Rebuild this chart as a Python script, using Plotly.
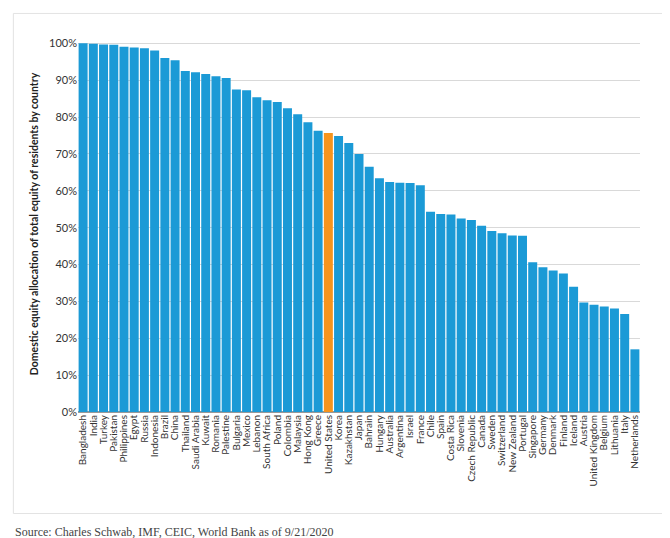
import plotly.graph_objects as go

countries = ["Bangladesh", "India", "Turkey", "Pakistan", "Philippines", "Egypt", "Russia", "Indonesia",
             "Brazil", "China", "Thailand", "Saudi Arabia", "Kuwait", "Romania", "Palestine", "Bulgaria",
             "Mexico", "Lebanon", "South Africa", "Poland", "Colombia", "Malaysia", "Hong Kong", "Greece",
             "United States", "Korea", "Kazakhstan", "Japan", "Bahrain", "Hungary", "Australia", "Argentina",
             "Israel", "France", "Chile", "Spain", "Costa Rica", "Slovenia", "Czech Republic", "Canada",
             "Sweden", "Switzerland", "New Zealand", "Portugal", "Singapore", "Germany", "Denmark", "Finland",
             "Iceland", "Austria", "United Kingdom", "Belgium", "Lithuania", "Italy", "Netherlands"]
shares = [100, 99.9, 99.7, 99.6, 99.1, 98.9, 98.7, 98.1, 96, 95.4, 92.5, 92.2, 91.7, 91.1, 90.6, 87.5,
          87.3, 85.4, 84.6, 84.1, 82.4, 80.8, 78.6, 76.3, 75.7, 74.9, 73, 70, 66.5, 63.4, 62.4, 62.2,
          62.1, 61.5, 54.3, 53.7, 53.6, 52.5, 52.1, 50.5, 49.1, 48.5, 47.9, 47.8, 40.6, 39.3, 38.4, 37.6,
          34, 29.7, 29.1, 28.6, 28.1, 26.6, 17]

colors = ["#f7941d" if c == "United States" else "#1b9ad6" for c in countries]

fig = go.Figure(go.Bar(x=countries, y=[v / 100 for v in shares], marker_color=colors,
                       marker_line_width=0, hoverinfo="x+y"))

fig.update_layout(
    width=670, height=538,
    paper_bgcolor="white", plot_bgcolor="white",
    font=dict(family="Lato, Arial, sans-serif", color="#333333", size=10),
    margin=dict(l=70, r=38, t=28, b=134),
    bargap=0.12,
    showlegend=False,
    yaxis=dict(range=[0, 1.02], tickformat=".0%", dtick=0.1, showgrid=True, gridcolor="#d9d9d9",
               zeroline=True, zerolinecolor="#999999", ticks="", tickfont=dict(size=11),
               title=dict(text="<b>Domestic equity allocation of total equity of residents by country</b>",
                          font=dict(size=10.5, color="#222222"), standoff=8)),
    xaxis=dict(tickangle=-90, tickfont=dict(size=10), showgrid=False, ticks="", automargin=False,
               tickmode="array", tickvals=countries, ticktext=countries),
    annotations=[dict(text="Source: Charles Schwab, IMF, CEIC, World Bank as of 9/21/2020",
                      xref="paper", yref="paper", x=-0.115, y=-0.295, xanchor="left", yanchor="top",
                      showarrow=False, font=dict(family="Liberation Serif, serif", size=12, color="#444444"))],
    shapes=[dict(type="rect", xref="paper", yref="paper", x0=-0.115, x1=1.05, y0=-0.27, y1=1.06,
                 line=dict(color="#e3e3e3", width=1))],
)

fig.write_html("out.html")
